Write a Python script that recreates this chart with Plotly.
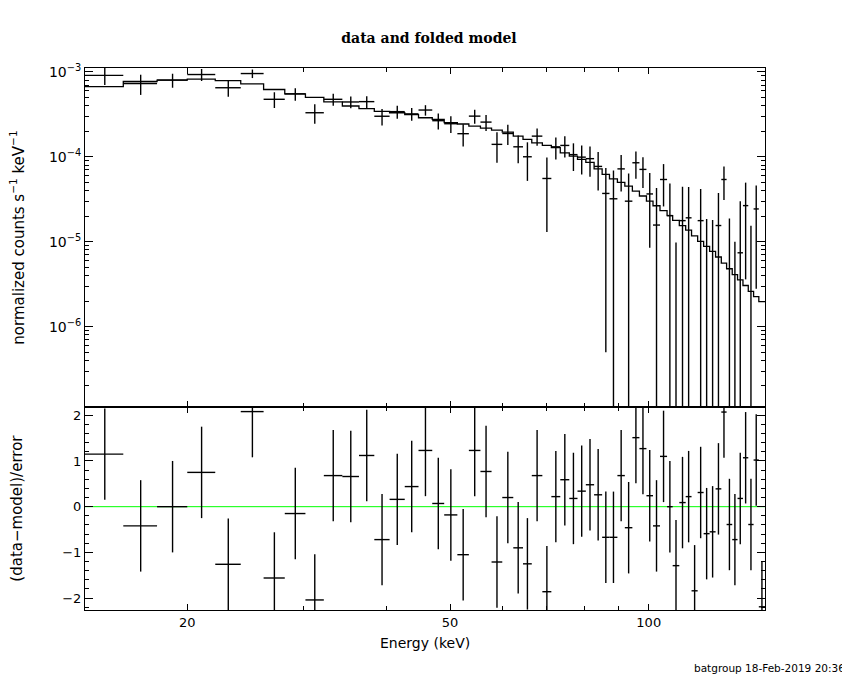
import numpy as np
import plotly.graph_objects as go
from plotly.subplots import make_subplots

# bin edges (keV), 59 channels
edges = [14.0, 16.0, 18.0, 20.0, 22.05, 24.1, 26.1, 28.1, 30.2, 32.2, 34.35, 36.4, 38.4,
         40.5, 42.7, 44.8, 47.0, 49.0, 51.3, 53.4, 55.6, 57.8, 60.0, 62.35, 64.5, 66.5,
         69.0, 71.2, 73.45, 75.8, 78.0, 80.3, 82.65, 85.0, 87.2, 89.65, 92.0, 94.45,
         96.8, 99.2, 101.5, 104.0, 106.6, 108.7, 111.25, 113.75, 116.1, 118.6, 121.1,
         123.65, 126.25, 128.8, 131.2, 133.8, 136.3, 138.9, 141.5, 144.15, 146.8, 150.0]

# normalized counts s^-1 keV^-1
rate = [9.1e-4, 7.3e-4, 8.0e-4, 9.3e-4, 6.5e-4, 9.55e-4, 4.75e-4, 5.5e-4, 3.3e-4, 4.75e-4,
        4.42e-4, 4.46e-4, 3.0e-4, 3.4e-4, 3.2e-4, 3.55e-4, 2.66e-4, 2.45e-4, 1.87e-4, 3.01e-4,
        2.56e-4, 1.40e-4, 1.88e-4, 1.31e-4, 1.0e-4, 1.75e-4, 5.55e-5, 1.31e-4, 1.36e-4, 1.06e-4,
        9.9e-5, 9.5e-5, 7.7e-5, 3.7e-5, 3.2e-5, 7.2e-5, 3.0e-5, 8.5e-5, 7.1e-5, 3.65e-5,
        1.57e-5, 5.4e-5, 2.03e-5, -1.78e-5, 1.77e-5, 1.91e-5, -3.4e-5, 1.77e-5, -5.4e-6, -5.6e-6,
        1.55e-5, 5.4e-5, -4.1e-6, -1.2e-5, 7.4e-6, 2.66e-5, -5.6e-6, 2.43e-5, -4.4e-5]

rate_err = [2.1e-4, 1.95e-4, 1.5e-4, 1.5e-4, 1.4e-4, 1.1e-4, 1.0e-4, 9.2e-5, 8.5e-5, 7.6e-5,
            7.0e-5, 7.0e-5, 6.6e-5, 6.0e-5, 5.5e-5, 5.0e-5, 5.7e-5, 5.5e-5, 5.5e-5, 5.6e-5,
            5.5e-5, 5.5e-5, 5.0e-5, 4.7e-5, 4.8e-5, 4.0e-5, 4.25e-5, 3.8e-5, 3.8e-5, 3.8e-5,
            3.7e-5, 3.7e-5, 3.7e-5, 3.65e-5, 3.7e-5, 3.3e-5, 3.36e-5, 3.0e-5, 2.8e-5, 2.8e-5,
            2.73e-5, 2.8e-5, 2.8e-5, 2.76e-5, 2.66e-5, 2.5e-5, 2.5e-5, 2.4e-5, 2.39e-5, 2.36e-5,
            2.2e-5, 2.3e-5, 2.28e-5, 2.2e-5, 2.26e-5, 2.3e-5, 2.1e-5, 2.15e-5, 2.1e-5]

model = [6.7e-4, 7.7e-4, 8.0e-4, 8.2e-4, 7.9e-4, 7.2e-4, 6.2e-4, 5.5e-4, 5.0e-4, 4.42e-4,
         3.96e-4, 3.69e-4, 3.43e-4, 3.3e-4, 3.13e-4, 2.88e-4, 2.76e-4, 2.52e-4, 2.43e-4, 2.30e-4,
         2.18e-4, 2.06e-4, 1.95e-4, 1.75e-4, 1.6e-4, 1.46e-4, 1.36e-4, 1.28e-4, 1.11e-4, 1.02e-4,
         9.3e-5, 8.6e-5, 7.2e-5, 6.2e-5, 5.5e-5, 5.0e-5, 4.5e-5, 3.95e-5, 3.45e-5, 3.0e-5,
         2.65e-5, 2.32e-5, 2.03e-5, 1.78e-5, 1.55e-5, 1.37e-5, 1.17e-5, 1.01e-5, 8.8e-6, 7.7e-6,
         6.6e-6, 5.6e-6, 4.8e-6, 4.1e-6, 3.55e-6, 3.05e-6, 2.6e-6, 2.25e-6, 1.97e-6]

# (data-model)/error
resid = [1.15, -0.42, 0.0, 0.75, -1.26, 2.08, -1.56, -0.15, -2.04, 0.68,
         0.66, 1.12, -0.72, 0.16, 0.44, 1.23, 0.07, -0.18, -1.05, 1.23,
         0.77, -1.21, 0.2, -0.9, -1.25, 0.68, -1.86, 0.22, 0.59, 0.18,
         0.34, 0.48, 0.26, -0.67, -0.67, 0.68, -0.46, 1.51, 1.27, 0.24,
         -0.42, 1.10, 0.0, -1.29, 0.09, 0.22, -1.84, 0.31, -0.59, -0.55,
         0.39, 2.07, -0.39, -0.72, 0.18, 1.07, -0.39, 1.02, -2.19]

lo = edges[:-1]
hi = edges[1:]
mid = [(a + b) / 2 for a, b in zip(lo, hi)]

# crosses for the data panel (negative rates: only the part of the bar above zero)
xs, ys = [], []
for a, b, m, v, e in zip(lo, hi, mid, rate, rate_err):
    top = v + e
    if top > 0:
        bot = v - e if v - e > 0 else 1e-10
        xs += [m, m, None]
        ys += [bot, top, None]
    if v > 0:
        xs += [a, b, None]
        ys += [v, v, None]

# crosses for the residual panel
rx, ry = [], []
for a, b, m, r in zip(lo, hi, mid, resid):
    rx += [m, m, None, a, b, None]
    ry += [r - 1, r + 1, None, r, r, None]

fig = make_subplots(rows=2, cols=1, shared_xaxes=True, vertical_spacing=0,
                    row_heights=[0.6255, 0.3745])

fig.add_trace(go.Scatter(x=xs, y=ys, mode='lines',
                         line=dict(color='black', width=1.4)), row=1, col=1)
fig.add_trace(go.Scatter(x=edges, y=model + [model[-1]], mode='lines',
                         line=dict(color='black', width=1.3, shape='hv')), row=1, col=1)

fig.add_trace(go.Scatter(x=[edges[0], edges[-1]], y=[0, 0], mode='lines',
                         line=dict(color='#00ff00', width=1)), row=2, col=1)
fig.add_trace(go.Scatter(x=rx, y=ry, mode='lines',
                         line=dict(color='black', width=1.4)), row=2, col=1)

axis_font = dict(family='DejaVu Sans', size=13, color='black')
label_font = dict(family='DejaVu Sans', size=15, color='black')
xminor = [30, 40, 60, 70, 80, 90]
common_x = dict(type='log', range=[np.log10(14), np.log10(150)],
                showline=True, linecolor='black', linewidth=1, mirror='ticks',
                ticks='inside', ticklen=6, tickcolor='black', showgrid=False,
                zeroline=False, tickvals=[20, 50, 100], ticktext=['20', '50', '100'],
                minor=dict(tickvals=xminor, ticks='inside', ticklen=4, tickcolor='black',
                           showgrid=False),
                tickfont=axis_font)
fig.update_xaxes(**common_x)
fig.update_xaxes(showticklabels=False, row=1, col=1)

yminor = [k * 10.0 ** n for n in range(-7, -2) for k in range(2, 10)]
fig.update_yaxes(type='log', range=[np.log10(1.13e-7), np.log10(1.11e-3)],
                 showline=True, linecolor='black', linewidth=1, mirror='ticks',
                 ticks='inside', ticklen=8, tickcolor='black', showgrid=False,
                 zeroline=False,
                 tickvals=[1e-6, 1e-5, 1e-4, 1e-3],
                 ticktext=['10<sup>\u22126</sup>', '10<sup>\u22125</sup>',
                           '10<sup>\u22124</sup>', '10<sup>\u22123</sup>'],
                 minor=dict(tickvals=yminor, ticks='inside', ticklen=4,
                            tickcolor='black', showgrid=False),
                 tickfont=dict(family='DejaVu Sans', size=14, color='black'), row=1, col=1)
fig.update_yaxes(range=[-2.26, 2.18],
                 showline=True, linecolor='black', linewidth=1, mirror='ticks',
                 ticks='inside', ticklen=8, tickcolor='black', showgrid=False,
                 zeroline=False, tickvals=[-2, -1, 0, 1, 2],
                 ticktext=['\u22122', '\u22121', '0', '1', '2'],
                 minor=dict(dtick=0.2, ticks='inside', ticklen=4, tickcolor='black',
                            showgrid=False),
                 tickfont=axis_font, row=2, col=1)

# the page puts the figure 8 px in from the window corner
fig.update_layout(
    width=842, height=672,
    margin=dict(l=77, r=85, t=60, b=70),
    paper_bgcolor='white', plot_bgcolor='white',
    showlegend=False,
    title=dict(text='<b>data and folded model</b>', x=0.5, xanchor='center', y=0.955,
               yanchor='middle',
               font=dict(family='DejaVu Serif', size=14, color='black')),
)

fig.add_annotation(text='Energy (keV)', xref='paper', yref='paper', x=0.5, y=-0.061,
                   showarrow=False, font=dict(family='DejaVu Sans', size=14, color='black'),
                   yanchor='middle')
fig.add_annotation(text='normalized counts s<sup>\u22121</sup> keV<sup>\u22121</sup>',
                   xref='paper', yref='paper', x=-0.1, y=0.687, textangle=-90,
                   showarrow=False, font=label_font, xanchor='center', yanchor='middle')
fig.add_annotation(text='(data\u2212model)/error', xref='paper', yref='paper',
                   x=-0.1, y=0.187, textangle=-90, showarrow=False, font=label_font,
                   xanchor='center', yanchor='middle')
fig.add_annotation(text='batgroup 18-Feb-2019 20:36', xref='paper', yref='paper',
                   x=1.12, y=-0.107, xanchor='right', yanchor='middle', showarrow=False,
                   font=dict(family='DejaVu Sans', size=10.5, color='black'))

fig.write_html("out.html")
